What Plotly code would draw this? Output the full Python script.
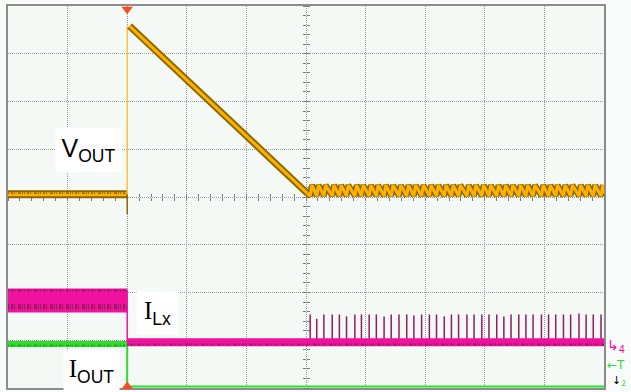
import plotly.graph_objects as go

# ---------------- data (in screen divisions; x: -5..5, y: -4..4) ----------------
trigger_x = -3.0

# V_OUT
vout_pre_x = [-5.0, -3.0]
vout_pre_y = [0.06, 0.06]
vout_dip_x = [-3.0, -3.0]
vout_dip_y = [0.06, -0.36]
vout_step_x = [-3.0, -3.0]
vout_step_y = [0.06, 3.58]
vout_ramp_x = [-2.96, 0.02]
vout_ramp_y = [3.58, 0.08]
ripple_low = 0.02
ripple_high = 0.25

# switching pulses (I_Lx spikes) after V_OUT returns to regulation
pulse_t = [0.07, 0.18, 0.30, 0.44, 0.56, 0.68, 0.82, 0.93, 1.06, 1.18,
           1.31, 1.43, 1.56, 1.69, 1.81, 1.94, 2.07, 2.19, 2.32, 2.44,
           2.56, 2.70, 2.82, 2.95, 3.07, 3.20, 3.32, 3.44, 3.57, 3.69,
           3.81, 3.95, 4.07, 4.19, 4.32, 4.44, 4.58, 4.70, 4.82, 4.95]
pulse_top = [-2.46, -2.55, -2.46, -2.46, -2.46, -2.50, -2.46, -2.46, -2.46, -2.46,
             -2.50, -2.46, -2.46, -2.46, -2.48, -2.46, -2.46, -2.46, -2.50, -2.46,
             -2.46, -2.46, -2.46, -2.46, -2.46, -2.46, -2.50, -2.46, -2.46, -2.46,
             -2.46, -2.46, -2.46, -2.46, -2.46, -2.46, -2.44, -2.46, -2.46, -2.46]

# I_Lx
ilx_pre_x = [-5.0, -3.0]
ilx_pre_y = [-2.17, -2.17]
ilx_step_x = [-3.0, -3.0]
ilx_step_y = [-1.95, -3.04]
ilx_post_x = [-3.0, 5.0]
ilx_post_y = [-3.04, -3.04]

# I_OUT
iout_x = [-5.0, -3.0, -3.0, 5.0]
iout_y = [-3.08, -3.08, -3.97, -3.97]

# ---------------- styles ----------------
ORANGE = "#FFB000"
ORANGE_DARK = "#8A6A00"
PINK = "#F0129E"
PINK_DARK = "#8E1D5E"
GREEN = "#2BE02B"
GREEN_DARK = "#169A16"
NOISE_DASH = "1px,2px,2px,1px,1px,3px,3px,1px,1px,1px"

fig = go.Figure()


def line(x, y, color, width, dash=None):
    fig.add_trace(go.Scatter(x=x, y=y, mode="lines", hoverinfo="skip",
                             line=dict(color=color, width=width, dash=dash),
                             showlegend=False))


# ripple built from pulse times
rip_x = [vout_ramp_x[-1]]
rip_y = [vout_ramp_y[-1]]
for i, t in enumerate(pulse_t):
    rip_x += [t, t + 0.03]
    rip_y += [ripple_low, ripple_high]
rip_x.append(5.0)
rip_y.append(ripple_low + 0.05)

# I_OUT
line(iout_x[:2], iout_y[:2], GREEN, 6)
line(iout_x[:2], [iout_y[0] - 0.03] * 2, GREEN_DARK, 1.5, NOISE_DASH)
line(iout_x[1:], iout_y[1:], GREEN, 2)

# I_Lx
line(ilx_pre_x, ilx_pre_y, PINK, 24)
line(ilx_pre_x, [ilx_pre_y[0] + 0.21] * 2, PINK_DARK, 2, NOISE_DASH)
line(ilx_pre_x, [ilx_pre_y[0] - 0.13] * 2, PINK_DARK, 5, NOISE_DASH)
line(ilx_step_x, ilx_step_y, PINK, 1.5)
sx, sy = [], []
for t, top in zip(pulse_t, pulse_top):
    sx += [t, t, None]
    sy += [ilx_post_y[0], top, None]
fig.add_trace(go.Scatter(x=sx, y=sy, mode="lines", hoverinfo="skip",
                         line=dict(color=PINK_DARK, width=1.5), showlegend=False))
line(ilx_post_x, ilx_post_y, PINK, 8)
line(ilx_post_x, [ilx_post_y[0] - 0.05] * 2, PINK_DARK, 2, NOISE_DASH)

# V_OUT
line(vout_pre_x, vout_pre_y, ORANGE_DARK, 8)
line(vout_pre_x, vout_pre_y, ORANGE, 4)
line(vout_pre_x, [vout_pre_y[0] + 0.02] * 2, ORANGE_DARK, 1.5, NOISE_DASH)
line(vout_dip_x, vout_dip_y, ORANGE_DARK, 1.5)
line(vout_step_x, vout_step_y, "#FFC040", 1.5)
line(vout_ramp_x, vout_ramp_y, ORANGE_DARK, 7)
line(vout_ramp_x, vout_ramp_y, ORANGE, 3)
line(rip_x, rip_y, ORANGE_DARK, 6)
line(rip_x, rip_y, ORANGE, 3)

# trigger markers
fig.add_trace(go.Scatter(x=[trigger_x, trigger_x], y=[3.93, -3.97], mode="markers",
                         marker=dict(symbol=["triangle-down", "triangle-up"], size=10,
                                     color="#FF4A1C"),
                         cliponaxis=False, hoverinfo="skip", showlegend=False))

grid = dict(showgrid=True, gridcolor="#999999", griddash="1px,1px", gridwidth=1,
            zeroline=False, showticklabels=False, ticks="", showline=True,
            mirror=True, linecolor="#8C8C8C", linewidth=2, layer="below traces")

center_ticks = dict(showgrid=False, zeroline=False, showline=False, showticklabels=False,
                    ticks="outside", ticklen=3, tickwidth=1, tickcolor="#7A7A7A",
                    dtick=0.2, tick0=0, layer="below traces")

fig.update_layout(
    width=631, height=392,
    margin=dict(l=8, r=27, t=4, b=4),
    paper_bgcolor="#F9FBFA",
    plot_bgcolor="#F4F9F6",
    xaxis=dict(range=[-5, 5], dtick=1, tick0=0, fixedrange=True, **grid),
    yaxis=dict(range=[-4, 4], dtick=1, tick0=0, fixedrange=True, **grid),
    # center graticule tick marks
    xaxis2=dict(overlaying="x", matches="x", anchor="free", position=0.5, side="bottom",
                **center_ticks),
    xaxis3=dict(overlaying="x", matches="x", anchor="free", position=0.5, side="top",
                **center_ticks),
    yaxis2=dict(overlaying="y", matches="y", anchor="free", position=0.5, side="left",
                **center_ticks),
    yaxis3=dict(overlaying="y", matches="y", anchor="free", position=0.5, side="right",
                **center_ticks),
)

# invisible traces so the center tick axes are rendered
for xa, ya in [("x2", "y2"), ("x3", "y3")]:
    fig.add_trace(go.Scatter(x=[0], y=[0], xaxis=xa, yaxis=ya, mode="markers",
                             marker=dict(opacity=0), hoverinfo="skip", showlegend=False))

lab_font = dict(family="Liberation Sans, Arial, sans-serif", size=25, color="#000000")
serif_I = "<span style='font-family:Liberation Serif, Times New Roman, serif'>I</span>"
fig.add_annotation(x=-3.65, y=0.98, xref="x", yref="y", text="V<sub>OUT</sub>",
                   showarrow=False, bgcolor="#FFFFFF", width=63, height=42,
                   align="center", valign="middle", font=lab_font)
fig.add_annotation(x=-2.49, y=-2.42, xref="x", yref="y", text=serif_I + "<sub>Lx</sub>",
                   showarrow=False, bgcolor="#FFFFFF", width=39, height=40,
                   align="center", valign="middle", font=lab_font)
fig.add_annotation(x=-3.6, y=-3.65, xref="x", yref="y", text=serif_I + "<sub>OUT</sub>",
                   showarrow=False, bgcolor="#FFFFFF", width=53, height=38,
                   align="center", valign="middle", font=lab_font)

# channel reference markers on the right edge
fig.add_annotation(x=1.0, y=-3.12, xref="paper", yref="y", xanchor="left", xshift=1,
                   text="↳<sub>4</sub>", showarrow=False,
                   font=dict(family="DejaVu Sans", size=14, color="#F0129E"))
fig.add_annotation(x=1.0, y=-3.52, xref="paper", yref="y", xanchor="left", xshift=1,
                   text="←T", showarrow=False,
                   font=dict(family="DejaVu Sans", size=12, color="#2BE02B"))
fig.add_annotation(x=1.0, y=-3.86, xref="paper", yref="y", xanchor="left", xshift=6,
                   yanchor="middle",
                   text="↓<span style='color:#2BE02B'><sub>2</sub></span>", showarrow=False,
                   font=dict(family="DejaVu Sans", size=11, color="#000000"))

fig.write_html("out.html", config={"displayModeBar": False},
               post_script="document.body.style.margin='0';document.body.style.padding='0';")
